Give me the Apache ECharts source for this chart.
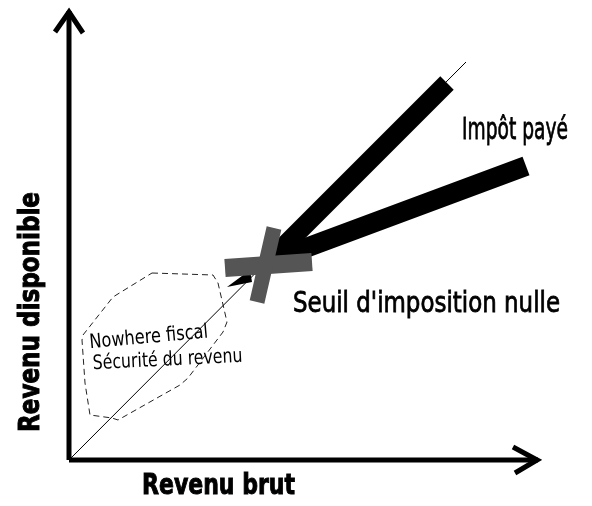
<!DOCTYPE html>
<html>
<head>
<meta charset="utf-8">
<script src="https://cdn.jsdelivr.net/npm/echarts@6/dist/echarts.min.js"></script>
<style>
html, body { margin: 0; padding: 0; background: #fff; }
#chart { width: 592px; height: 506px; }
</style>
</head>
<body>
<div id="chart"></div>
<script>
// axes (en unités du graphique, origine en bas à gauche)
var axeY = [[0, 0], [0, 449]];
var flecheY = [[-14, 428], [0, 448], [14, 427]];
var axeX = [[0, 0], [469, 0]];
var flecheX = [[444, 13], [468, 0], [446, -13]];
// diagonale revenu brut = revenu disponible
var diagonale = [[0, 0], [397, 398]];
// revenu disponible sans impôt / après impôt
var sansImpot = [[199, 198], [378, 377]];
var apresImpot = [[199, 198], [457, 294]];
var pointe = [[158, 173], [181, 190], [183, 178]];
// croix du seuil
var croixH = [[156, 192], [243, 198]];
var croixV = [[205, 232], [188, 158]];
// zone "nowhere fiscal"
var zone = [[83, 187], [144, 185], [149, 177], [158, 138], [154, 128], [119, 82], [111, 75],
    [49, 40], [43, 42], [21, 45], [16, 77], [13, 120], [14, 125], [44, 163], [83, 187]];

var police = 'DejaVu Sans';

function trait(data, width, color, type) {
    return {
        type: 'line',
        data: data,
        symbol: 'none',
        clip: false,
        silent: true,
        lineStyle: { width: width, color: color, type: type || 'solid', cap: 'butt', join: 'miter' },
        z: 2
    };
}

// mesure du texte pour le resserrer à la largeur voulue
var ctx = document.createElement('canvas').getContext('2d');
function texte(str, poids, size, x, base, largeur, rot, epais) {
    ctx.font = poids + ' ' + size + 'px "' + police + '"';
    var w = ctx.measureText(str).width;
    return {
        type: 'text',
        x: x, y: base,
        rotation: rot || 0,
        scaleX: largeur / w,
        style: {
            text: str, fontFamily: police, fontSize: size, fontWeight: poids, fill: '#000',
            stroke: epais ? '#000' : null, lineWidth: epais || 0,
            x: 0, y: -0.3 * size, align: 'left', verticalAlign: 'middle'
        },
        z: 10
    };
}

var myEchart = echarts.init(document.getElementById('chart'));
var option = {
    animation: false,
    grid: { left: 0, bottom: 46, width: 539, height: 450 },
    xAxis: { type: 'value', min: -69, max: 470, show: false },
    yAxis: { type: 'value', min: 0, max: 450, show: false },
    series: [
        trait(zone, 1, '#222', [6, 4]),
        trait(diagonale, 1, '#000'),
        trait(sansImpot, 19, '#000'),
        trait(apresImpot, 20, '#000'),
        {
            type: 'custom',
            silent: true,
            clip: false,
            data: [0],
            renderItem: function (params, api) {
                return {
                    type: 'polygon',
                    shape: { points: pointe.map(function (p) { return api.coord(p); }) },
                    style: { fill: '#000' }
                };
            },
            z: 3
        },
        Object.assign(trait(croixH, 18, '#555'), { z: 4 }),
        Object.assign(trait(croixV, 15, '#555'), { z: 4 }),
        trait(axeY, 5, '#000'),
        trait(flecheY, 5, '#000'),
        trait(axeX, 5, '#000'),
        trait(flecheX, 5, '#000')
    ],
    graphic: [
        texte('Revenu brut', 'bold', 28, 142, 495, 153, 0, 1),
        texte('Revenu disponible', 'bold', 28, 40, 432, 240, Math.PI / 2, 1),
        texte('Impôt payé', 'normal', 30, 462, 140, 106, 0, 0.8),
        texte("Seuil d'imposition nulle", 'normal', 28, 293, 313, 267, 0, 0.8),
        texte('Nowhere fiscal', 'normal', 20, 90, 349, 119, 0.09),
        texte('Sécurité du revenu', 'normal', 20, 93, 370, 150, 0.05)
    ]
};
myEchart.setOption(option);
</script>
</body>
</html>
